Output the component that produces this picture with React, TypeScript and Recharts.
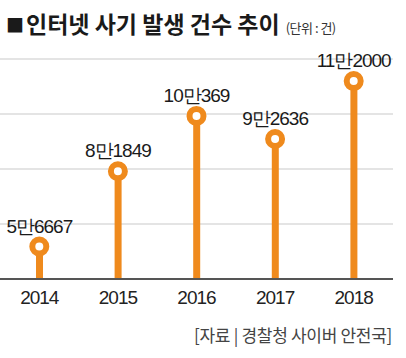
import { ComposedChart, Bar, Line, XAxis, YAxis, CartesianGrid, LabelList } from "recharts";

const YEARS = ["2014", "2015", "2016", "2017", "2018"];
const CASES = [56667, 81849, 100369, 92636, 112000];
const GRID_TICKS = [45800, 64200, 82600, 101000, 119400];

const ORANGE = "#ef8a1d";
const KR = "'Noto Sans CJK KR', 'Noto Sans', sans-serif";
const NUM = "'Liberation Sans', Arial, sans-serif";

const data = YEARS.map((year, i) => ({ year, cases: CASES[i] }));

// 56667 -> "5만6667"
const fmt = (v: any) => `${Math.floor(v / 10000)}만${v % 10000}`;

export default function App() {
  return (
    <div style={{ position: "absolute", left: 0, top: 0, width: 406, height: 358, background: "#fff" }}>
      <div style={{ position: "absolute", left: 6, top: 8, fontFamily: KR, fontSize: 23, fontWeight: 700,
                    lineHeight: "30px", color: "#1a1a1a", letterSpacing: 0, whiteSpace: "nowrap" }}>
        <span style={{ fontSize: 18, marginRight: 2, verticalAlign: 1 }}>■</span>인터넷 사기 발생 건수 추이
        <span style={{ fontSize: 13, fontWeight: 400, marginLeft: 6, color: "#333", letterSpacing: -0.5 }}>(단위 : 건)</span>
      </div>
      <ComposedChart width={406} height={358} data={data} margin={{ top: 59, right: 13, left: 0, bottom: 49 }}>
        <CartesianGrid stroke="#c9c9c9" strokeWidth={1} vertical={false} />
        <YAxis hide domain={[45800, 119400]} ticks={GRID_TICKS} allowDataOverflow />
        <XAxis dataKey="year" height={30} tickLine={false} axisLine={{ stroke: "#555", strokeWidth: 2 }}
               tickMargin={6} tick={{ fill: "#222", fontSize: 19, fontFamily: NUM, letterSpacing: -1 }} />
        <Bar dataKey="cases" fill={ORANGE} barSize={7} isAnimationActive={false} />
        <Line dataKey="cases" stroke="none" isAnimationActive={false}
              dot={{ r: 7, fill: "#fff", stroke: ORANGE, strokeWidth: 6 }} activeDot={false}>
          <LabelList dataKey="cases" position="top" offset={14} formatter={fmt}
                     style={{ fill: "#1a1a1a", fontSize: 19, fontFamily: NUM, letterSpacing: -1 }} />
        </Line>
      </ComposedChart>
      <div style={{ position: "absolute", right: 14, top: 323, fontFamily: KR, fontSize: 17, color: "#444",
                    lineHeight: "24px", letterSpacing: -0.3, whiteSpace: "nowrap" }}>
        [자료 | 경찰청 사이버 안전국]
      </div>
    </div>
  );
}
